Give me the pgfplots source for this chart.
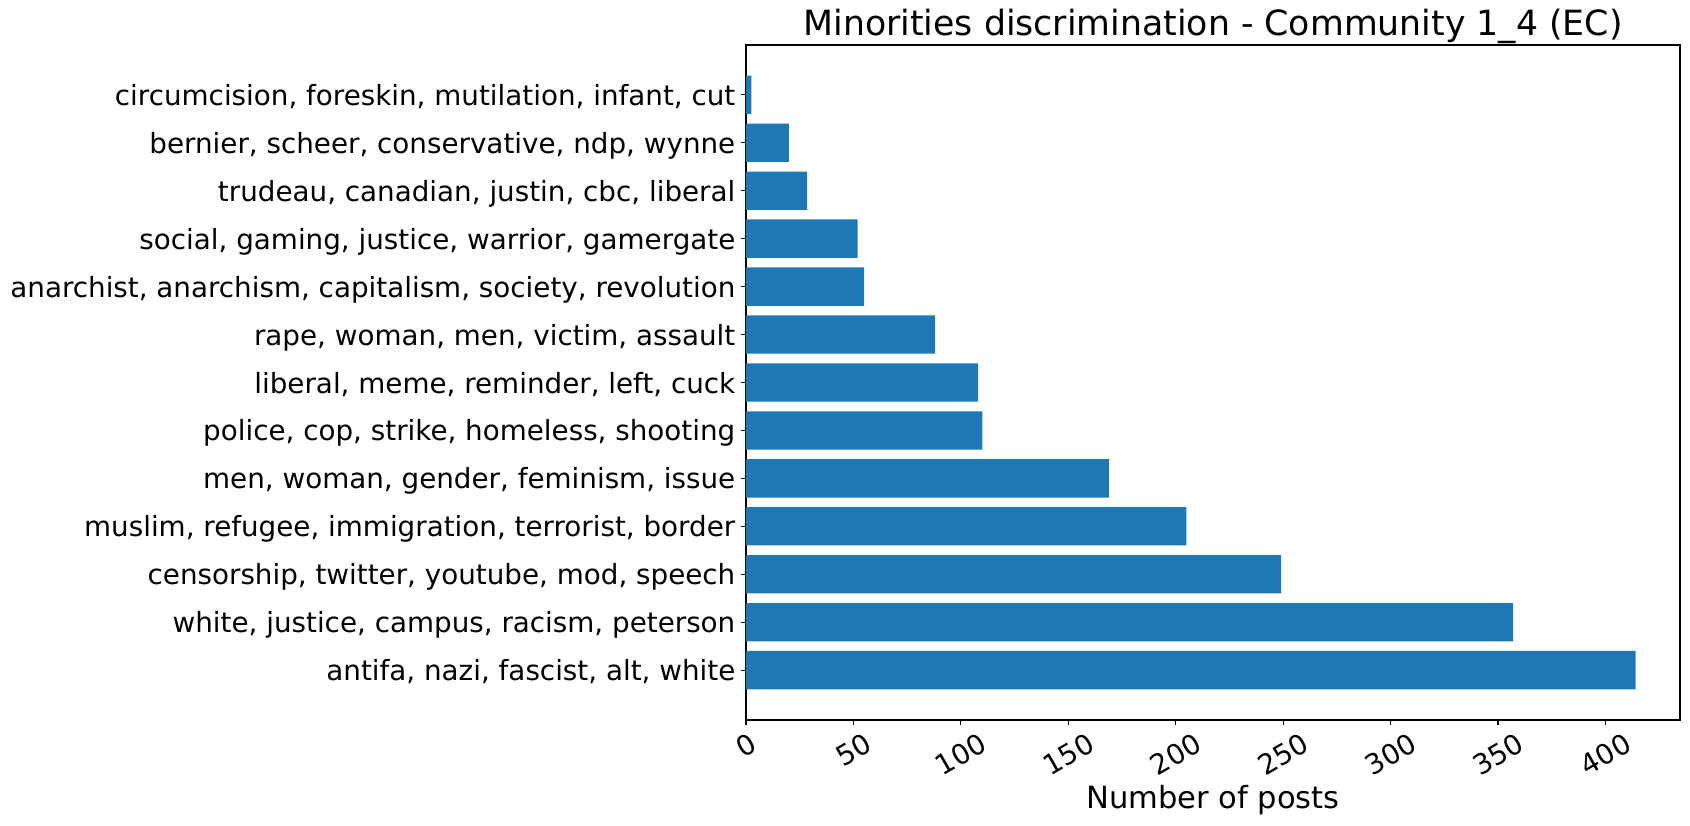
\documentclass[border=0pt]{standalone}
\usepackage{fontspec}
\setmainfont{DejaVu Sans}
\usepackage{graphicx}
\usepackage{pgfplots}
\pgfplotsset{compat=1.18}
\definecolor{mplblue}{RGB}{31,119,180}

% posts per topic, bottom bar first
\pgfplotstableread{
y  posts
0  414
1  357
2  249
3  205
4  169
5  110
6  108
7  88
8  55
9  52
10 28.5
11 20
12 2.5
}\topics

\begin{document}
\begin{tikzpicture}
% page is 1690 x 825 px, 1 px = 0.72pt; axis corner sits at px (746,720)
\useasboundingbox (-537.12pt,-75.6pt) rectangle (679.68pt,518.4pt);
\begin{axis}[
    at={(0,0)}, anchor=south west,
    scale only axis,
    width=672.5pt, height=486pt,
    xbar, bar width=0.8,
    xmin=0, xmax=434.7,
    ymin=-1.04, ymax=13.04,
    axis line style={line width=0.8pt},
    every tick/.style={black, line width=0.8pt},
    tick align=outside,
    major tick length=3.5pt,
    xtick pos=bottom, ytick pos=left,
    xtick={0,50,...,400},
    xticklabel={\rotatebox{30}{\pgfmathprintnumber[assume math mode=true]{\tick}}},
    x tick label style={font=\fontsize{20}{24}\selectfont, anchor=north, inner sep=0pt, yshift=-5pt},
    ytick={0,...,12},
    yticklabels={
        {antifa, nazi, fascist, alt, white},
        {white, justice, campus, racism, peterson},
        {censorship, twitter, youtube, mod, speech},
        {muslim, refugee, immigration, terrorist, border},
        {men, woman, gender, feminism, issue},
        {police, cop, strike, homeless, shooting},
        {liberal, meme, reminder, left, cuck},
        {rape, woman, men, victim, assault},
        {anarchist, anarchism, capitalism, society, revolution},
        {social, gaming, justice, warrior, gamergate},
        {trudeau, canadian, justin, cbc, liberal},
        {bernier, scheer, conservative, ndp, wynne},
        {circumcision, foreskin, mutilation, infant, cut}
    },
    y tick label style={font=\fontsize{20}{24}\selectfont, anchor=base east, inner sep=0pt, xshift=-4pt, yshift=-7.6pt},
    xlabel={Number of posts},
    xlabel style={font=\fontsize{22}{26}\selectfont, at={(axis description cs:0.5,0)}, anchor=base, yshift=-64pt},
    title={Minorities discrimination - Community 1\_4 (EC)},
    every axis title/.style={font=\fontsize{25}{30}\selectfont, at={(axis description cs:0.5,1)}, anchor=base, yshift=6.5pt},
]
\addplot[fill=mplblue, draw=none] table[x=posts, y=y] {\topics};
\end{axis}
\end{tikzpicture}
\end{document}
